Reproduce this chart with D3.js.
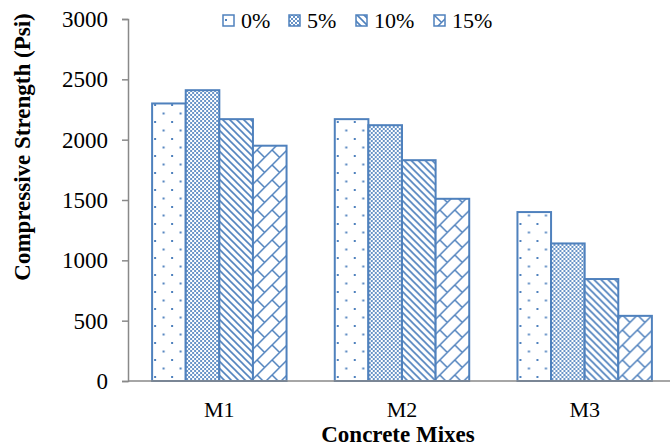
<!DOCTYPE html>
<html>
<head>
<meta charset="utf-8">
<script src="https://cdn.jsdelivr.net/npm/d3@7/dist/d3.min.js"></script>
<style>
  html, body { margin: 0; padding: 0; background: #fff; }
  svg { display: block; }
</style>
</head>
<body>
<svg id="chart" width="670" height="448"></svg>
<script>
const categories = ["M1", "M2", "M3"];
const seriesNames = ["0%", "5%", "10%", "15%"];
const values0 = [2300, 2170, 1400];
const values5 = [2410, 2120, 1140];
const values10 = [2170, 1830, 845];
const values15 = [1950, 1510, 540];
const yTicks = [0, 500, 1000, 1500, 2000, 2500, 3000];

const seriesValues = [values0, values5, values10, values15];
const patternIds = ["pDots", "pCheck", "pDiag", "pBrick"];
const blue = "#4F81BD";
const FONT = "'Liberation Serif', 'Times New Roman', serif";

const svg = d3.select("#chart");
const defs = svg.append("defs");

// Dotted pattern
const p0 = defs.append("pattern").attr("id", "pDots").attr("patternUnits", "userSpaceOnUse")
  .attr("width", 17).attr("height", 17).attr("x", 2).attr("y", 2);
p0.append("rect").attr("width", 17).attr("height", 17).attr("fill", "#fff");
p0.append("rect").attr("x", 0).attr("y", 0).attr("width", 2).attr("height", 2).attr("fill", blue);
p0.append("rect").attr("x", 8.5).attr("y", 8.5).attr("width", 2).attr("height", 2).attr("fill", blue);

// Checkerboard
const p1 = defs.append("pattern").attr("id", "pCheck").attr("patternUnits", "userSpaceOnUse")
  .attr("width", 4).attr("height", 4);
p1.append("rect").attr("width", 4).attr("height", 4).attr("fill", "#fff");
p1.append("rect").attr("x", 0).attr("y", 0).attr("width", 2).attr("height", 2).attr("fill", blue).attr("opacity", 0.85);
p1.append("rect").attr("x", 2).attr("y", 2).attr("width", 2).attr("height", 2).attr("fill", blue).attr("opacity", 0.85);

// Wide downward diagonal
const p2 = defs.append("pattern").attr("id", "pDiag").attr("patternUnits", "userSpaceOnUse")
  .attr("width", 7).attr("height", 7);
p2.append("rect").attr("width", 7).attr("height", 7).attr("fill", "#fff");
p2.append("path").attr("d", "M-1,-1 L8,8 M-1,6 L1,8 M6,-1 L8,1")
  .attr("stroke", blue).attr("stroke-width", 1.6).attr("fill", "none");

// Diagonal brick
const p3 = defs.append("pattern").attr("id", "pBrick").attr("patternUnits", "userSpaceOnUse")
  .attr("width", 15).attr("height", 15);
p3.append("rect").attr("width", 15).attr("height", 15).attr("fill", "#fff");
p3.append("path").attr("d", "M-1,16 L16,-1 M-1,1 L1,-1 M14,16 L16,14 M0,0 L7.5,7.5")
  .attr("stroke", blue).attr("stroke-width", 1.5).attr("fill", "none");

const plotLeft = 128, plotBottom = 381, plotTop = 19;

const x0 = d3.scaleBand().domain(categories).range([plotLeft, 676])
  .paddingInner(0.264).paddingOuter(0.132);
const x1 = d3.scaleBand().domain(seriesNames).range([0, x0.bandwidth()]).padding(0);
const y = d3.scaleLinear().domain([0, 3000]).range([plotBottom, plotTop]);

// Y axis
const yAxis = svg.append("g").attr("transform", `translate(${plotLeft},0)`)
  .call(d3.axisLeft(y).tickValues(yTicks).tickSize(6).tickPadding(14).tickFormat(d3.format("d")));
yAxis.attr("font-family", null);
yAxis.select(".domain").attr("stroke", "#898989").attr("stroke-width", 1.5);
yAxis.selectAll(".tick line").attr("stroke", "#898989").attr("stroke-width", 1.5);
yAxis.selectAll(".tick text").attr("font-size", 23).style("font-family", FONT).attr("fill", "#000");

// Bars
const groups = svg.append("g").selectAll("g").data(categories).join("g")
  .attr("transform", d => `translate(${x0(d)},0)`);
groups.selectAll("rect")
  .data((c, ci) => seriesNames.map((s, si) => ({ s, si, v: seriesValues[si][ci] })))
  .join("rect")
  .attr("x", d => x1(d.s))
  .attr("y", d => y(d.v))
  .attr("width", x1.bandwidth())
  .attr("height", d => y(0) - y(d.v))
  .attr("fill", d => `url(#${patternIds[d.si]})`)
  .attr("stroke", blue)
  .attr("stroke-width", 2);

// X axis line
svg.append("line").attr("x1", plotLeft).attr("x2", 670).attr("y1", plotBottom).attr("y2", plotBottom)
  .attr("stroke", "#898989").attr("stroke-width", 1.5);

// X labels
svg.append("g").selectAll("text").data(categories).join("text")
  .attr("x", d => x0(d) + x0.bandwidth() / 2)
  .attr("y", 417)
  .attr("text-anchor", "middle")
  .attr("font-size", 22)
  .style("font-family", FONT)
  .text(d => d);

// Axis titles
svg.append("text").attr("x", 398).attr("y", 442).attr("text-anchor", "middle")
  .attr("font-size", 23).attr("font-weight", "bold").style("font-family", FONT).text("Concrete Mixes");
svg.append("text").attr("transform", "translate(30,147) rotate(-90)").attr("text-anchor", "middle")
  .attr("font-size", 23).attr("font-weight", "bold").style("font-family", FONT).text("Compressive Strength (Psi)");

// Legend
const legendX = [223, 289, 356, 434];
const legend = svg.append("g").selectAll("g").data(seriesNames).join("g")
  .attr("transform", (d, i) => `translate(${legendX[i]},0)`);
legend.append("rect").attr("x", 0).attr("y", 15).attr("width", 11).attr("height", 11)
  .attr("fill", (d, i) => `url(#${patternIds[i]})`).attr("stroke", blue).attr("stroke-width", 1.5);
legend.append("text").attr("x", 18).attr("y", 28).attr("font-size", 22).style("font-family", FONT).text(d => d);
</script>
</body>
</html>
